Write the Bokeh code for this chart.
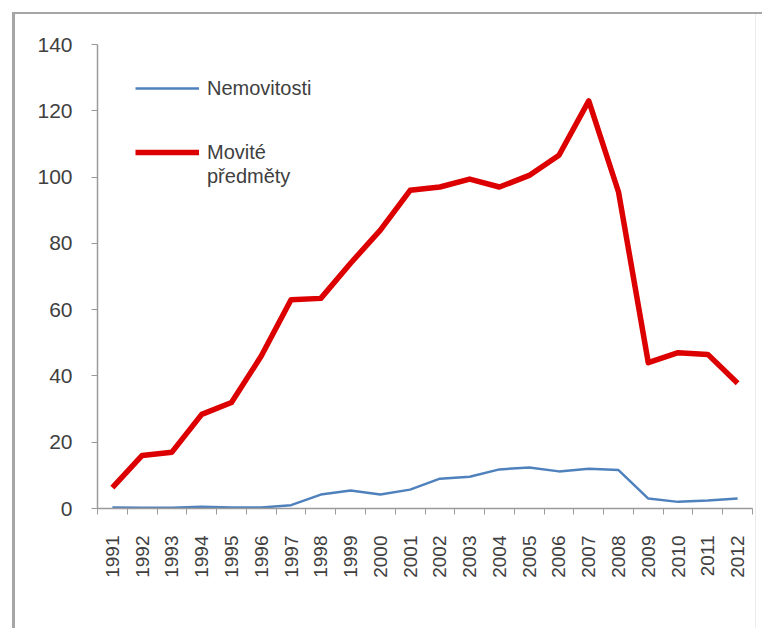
import math
from bokeh.plotting import figure
from bokeh.models import (Range1d, FixedTicker, LinearAxis, Legend, LegendItem,
                          ColumnDataSource)
from bokeh.embed import file_html
from bokeh.resources import INLINE

years = list(range(1991, 2013))
nemovitosti = [0.3, 0.2, 0.2, 0.5, 0.3, 0.3, 1.0, 4.2, 5.4, 4.2, 5.7, 9.0,
               9.6, 11.8, 12.4, 11.2, 12.0, 11.6, 3.0, 2.0, 2.4, 3.0]
movite = [6.3, 16.0, 17.0, 28.4, 32.0, 46.0, 63.0, 63.4, 74.0, 84.0, 96.0, 97.0,
          99.4, 97.0, 100.5, 106.6, 123.0, 95.5, 44.0, 47.0, 46.5, 37.8]
y_ticks = [0, 20, 40, 60, 80, 100, 120, 140]
series_names = ["Nemovitosti", "Movité", "předměty"]

src = ColumnDataSource(dict(x=years, a=nemovitosti, b=movite))

FONT = "Liberation Sans"
TXT = "#404040"
AX = "#9a9a9a"
BORDER = "#a6a6a6"

p = figure(width=762, height=628, output_backend="svg", toolbar_location=None,
           x_range=Range1d(years[0] - 0.5, years[-1] + 0.5),
           y_range=Range1d(0, 140), x_axis_type=None, y_axis_type=None,
           min_border_left=97, min_border_right=10, min_border_top=44,
           min_border_bottom=120)
p.outline_line_color = None
p.xgrid.visible = False
p.ygrid.visible = False
p.background_fill_alpha = 0
p.border_fill_alpha = 0
p.styles = {
    "background-color": "white",
    "background-image": (f"linear-gradient({BORDER}, {BORDER}), "
                         f"linear-gradient({BORDER}, {BORDER}), "
                         "linear-gradient(#ececec, #ececec)"),
    "background-position": "12px 12px, 12px 12px, 755px 14px",
    "background-size": "3px 100%, 100% 2px, 1px 100%",
    "background-repeat": "no-repeat",
}

# y axis
ya = LinearAxis(ticker=FixedTicker(ticks=y_ticks))
ya.axis_line_color = AX
ya.axis_line_width = 1.5
ya.major_tick_line_color = AX
ya.major_tick_out = 6
ya.major_tick_in = 0
ya.minor_tick_line_color = None
ya.major_label_standoff = 19
ya.major_label_text_font = FONT
ya.major_label_text_font_size = "21px"
ya.major_label_text_color = TXT
p.add_layout(ya, "left")

# x axis: ticks at category boundaries
bounds = [y - 0.5 for y in years] + [years[-1] + 0.5]
xa_t = LinearAxis(ticker=FixedTicker(ticks=bounds))
xa_t.axis_line_color = AX
xa_t.axis_line_width = 1.5
xa_t.major_tick_line_color = AX
xa_t.major_tick_out = 6
xa_t.major_tick_in = 0
xa_t.minor_tick_line_color = None
xa_t.major_label_text_font_size = "1px"
xa_t.major_label_text_alpha = 0
xa_t.major_label_standoff = 0
p.add_layout(xa_t, "below")

# x axis: labels at category centres (reading bottom to top)
xa_l = LinearAxis(ticker=FixedTicker(ticks=years))
xa_l.axis_line_color = None
xa_l.major_tick_line_color = None
xa_l.major_tick_out = 0
xa_l.major_tick_in = 0
xa_l.minor_tick_line_color = None
xa_l.major_label_orientation = math.pi / 2
xa_l.major_label_standoff = 21
xa_l.major_label_text_font = FONT
xa_l.major_label_text_font_size = "19px"
xa_l.major_label_text_color = TXT
xa_l.major_label_overrides = {y: str(y) for y in years}
p.add_layout(xa_l, "below")

r1 = p.line("x", "a", source=src, line_color="#4f81bd", line_width=2.5)
r2 = p.line("x", "b", source=src, line_color="#dc0000", line_width=5.5,
            line_join="round")
r_blank = p.line("x", "b", source=src, line_alpha=0)


def style_legend(leg):
    leg.background_fill_alpha = 0
    leg.border_line_color = None
    leg.glyph_width = 64
    leg.glyph_height = 24
    leg.label_height = 24
    leg.label_standoff = 8
    leg.padding = 0
    leg.margin = 0
    leg.label_text_font = FONT
    leg.label_text_font_size = "20px"
    leg.label_text_color = TXT


leg_a = Legend(items=[LegendItem(label=series_names[0], renderers=[r1]),
                      LegendItem(label=series_names[1], renderers=[r2])],
               location=(38, 344))
style_legend(leg_a)
leg_a.spacing = 40
p.add_layout(leg_a)

leg_b = Legend(items=[LegendItem(label=series_names[2], renderers=[r_blank])],
               location=(38, 320))
style_legend(leg_b)
p.add_layout(leg_b)

open("out.html", "w").write(file_html(p, INLINE))
